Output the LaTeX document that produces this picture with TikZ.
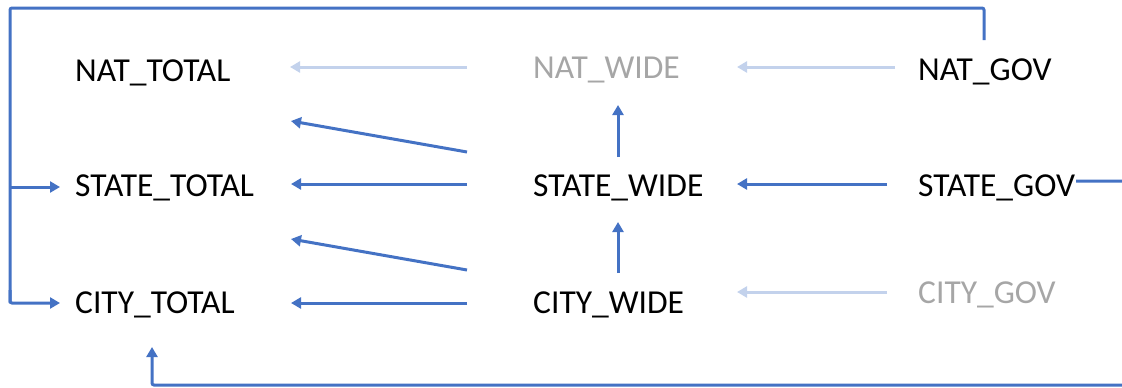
\documentclass[tikz,border=0pt]{standalone}
\usepackage{fontspec}
\setmainfont{Carlito}
\usetikzlibrary{arrows.meta,calc}
\definecolor{oblue}{HTML}{4472C4}
\definecolor{lblue}{HTML}{C3D2EC}
\definecolor{gtext}{HTML}{A6A6A6}
\begin{document}
\begin{tikzpicture}[x=1pt,y=-1pt,
  lbl/.style={anchor=base west,inner sep=0pt,font=\fontsize{33.5}{40}\selectfont,text=black},
  glbl/.style={lbl,text=gtext},
  arr/.style={draw=oblue,line width=3pt,-{Triangle[length=10pt,width=11pt]}},
  larr/.style={draw=lblue,line width=3pt,-{Triangle[length=10pt,width=11pt]}},
  wire/.style={draw=oblue,line width=3pt,rounded corners=2pt}]
\useasboundingbox (0,0) rectangle (1122,388);
% nodes
\node[lbl]  (NT) at (75,81)  {NAT\_TOTAL};
\node[lbl]  (ST) at (75,196) {STATE\_TOTAL};
\node[lbl]  (CT) at (75,313) {CITY\_TOTAL};
\node[glbl] (NW) at (533,78) {NAT\_WIDE};
\node[lbl]  (SW) at (533,196) {STATE\_WIDE};
\node[lbl]  (CW) at (533,313) {CITY\_WIDE};
\node[lbl]  (NG) at (918,80) {NAT\_GOV};
\node[lbl]  (SG) at (918,196) {STATE\_GOV};
\node[glbl] (CG) at (918,303) {CITY\_GOV};
% light arrows
\draw[larr] ($(NW.base west)+(-66,-11)$) -- ($(NT.base west)+(215,-14)$);
\draw[larr] ($(NG.base west)+(-23,-13)$) -- ($(NW.base west)+(204,-11)$);
\draw[larr] ($(CG.base west)+(-31,-11)$) -- ($(CW.base west)+(204,-21)$);
% blue arrows
\draw[arr] ($(SW.base west)+(-66,-44)$) -- ($(NT.base west)+(216,40)$);
\draw[arr] ($(SW.base west)+(-66,-12)$) -- ($(ST.base west)+(216,-12)$);
\draw[arr] ($(CW.base west)+(-66,-43)$) -- ($(ST.base west)+(216,43)$);
\draw[arr] ($(CW.base west)+(-66,-10)$) -- ($(CT.base west)+(216,-10)$);
\draw[arr] ($(SW.base west)+(85,-39)$) -- ($(NW.base west)+(85,27)$);
\draw[arr] ($(CW.base west)+(85,-40)$) -- ($(SW.base west)+(85,26)$);
\draw[arr] ($(SG.base west)+(-31,-12)$) -- ($(SW.base west)+(204,-12)$);
% top feedback loop
\coordinate (topL) at (10,8);
\draw[wire] ($(NG.base west)+(66,-40)$) |- (topL) -- (10,303);
\draw[arr,rounded corners=2pt] (10,290) -- (10,303) -- ($(CT.base west)+(-15,-10)$);
\draw[arr] (10,187) -- ($(ST.base west)+(-15,-9)$);
% bottom feedback loop
\draw[wire,-{Triangle[length=10pt,width=11pt]}] ($(SG.base west)+(158,-15)$) -- (1135,181) -- (1135,385) -- (152,385) -- ($(CT.base west)+(77,34)$);
\end{tikzpicture}
\end{document}
